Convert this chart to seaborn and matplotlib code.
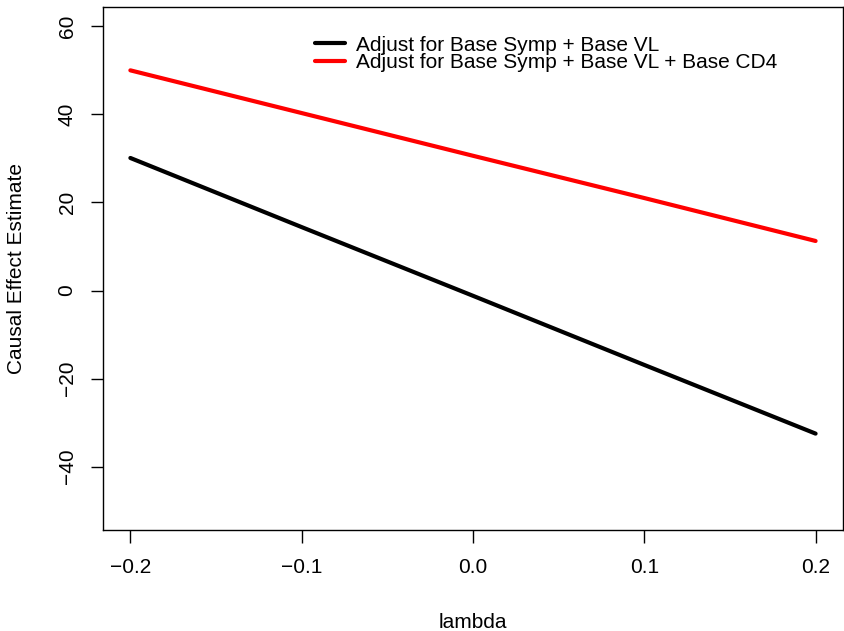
import matplotlib
matplotlib.use("Agg")
import matplotlib.pyplot as plt
import seaborn as sns
import pandas as pd

# values
lambdas = [-0.2, -0.1, 0.0, 0.1, 0.2]
est_symp_vl = [30.1, 14.4, -1.2, -16.9, -32.5]
est_symp_vl_cd4 = [50.0, 40.3, 30.6, 21.0, 11.25]
labels = ["Adjust for Base Symp + Base VL",
          "Adjust for Base Symp + Base VL + Base CD4"]
xticks = [-0.2, -0.1, 0.0, 0.1, 0.2]
yticks = [-40, -20, 0, 20, 40, 60]

df = pd.DataFrame({
    "lambda": lambdas * 2,
    "estimate": est_symp_vl + est_symp_vl_cd4,
    "model": [labels[0]] * len(lambdas) + [labels[1]] * len(lambdas),
})

sns.set_style("white")
plt.rcParams["font.family"] = ["Liberation Sans", "DejaVu Sans"]
plt.rcParams["text.color"] = "black"
fs = 15

fig = plt.figure(figsize=(8.44, 6.31), dpi=100)
ax = fig.add_axes([0.122, 0.160, 0.8768, 0.829])

sns.lineplot(data=df, x="lambda", y="estimate", hue="model",
             palette=["black", "red"], linewidth=3, ax=ax)

ax.set_xlim(-0.216, 0.216)
ax.set_ylim(-54.4, 64.4)
ax.set_xticks(xticks)
ax.set_xticklabels(["\u22120.2", "\u22120.1", "0.0", "0.1", "0.2"])
ax.set_yticks(yticks)
ax.set_yticklabels(["\u221240", "\u221220", "0", "20", "40", "60"],
                   rotation=90, va="center")
ax.tick_params(axis="both", direction="out", length=9, width=1,
               color="black", labelsize=fs, labelcolor="black",
               bottom=True, left=True)
ax.tick_params(axis="x", pad=11)
ax.tick_params(axis="y", pad=10)

for s in ax.spines.values():
    s.set_visible(True)
    s.set_color("black")
    s.set_linewidth(1)

ax.set_xlabel("lambda", fontsize=fs, color="black")
ax.xaxis.label.set_va("baseline")
ax.xaxis.set_label_coords(0.5, -0.188)
ax.set_ylabel("Causal Effect Estimate", fontsize=fs, color="black")
ax.yaxis.label.set_rotation_mode("anchor")
ax.yaxis.label.set_va("baseline")
ax.yaxis.set_label_coords(-0.110, 0.5)

leg = ax.legend(loc="upper left", bbox_to_anchor=(0.2865, 0.945), frameon=False,
                fontsize=fs, handlelength=1.44, handletextpad=0.55,
                labelspacing=-0.06, borderaxespad=0, borderpad=0)
for t in leg.get_texts():
    t.set_color("black")

fig.savefig("out.png", dpi=100)
